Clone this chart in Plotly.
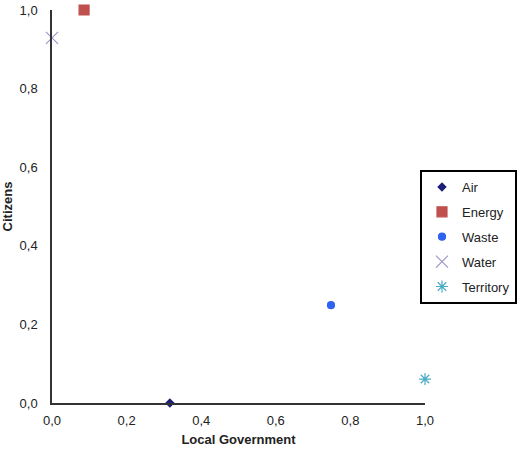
import plotly.graph_objects as go

series = ["Air", "Energy", "Waste", "Water", "Territory"]
x_vals = [0.316, 0.086, 0.748, 0.0, 1.0]
y_vals = [0.0, 1.0, 0.249, 0.929, 0.061]
symbols = ["diamond", "square", "circle", "x-thin-open", "asterisk-open"]
colors = ["#1f1f7a", "#c0504d", "#2f62f0", "#9a96c8", "#4bacc6"]
sizes = [6, 10, 7, 12, 10]

fig = go.Figure()
for i, name in enumerate(series):
    fig.add_trace(go.Scatter(
        x=[x_vals[i]], y=[y_vals[i]], mode="markers", name=name,
        legendgroup=name,
        marker=dict(symbol=symbols[i], color=colors[i], size=sizes[i],
                    line=dict(color=colors[i], width=1.2)),
        cliponaxis=False,
    ))

fig.update_layout(
    width=520, height=450,
    margin=dict(l=52, r=95, t=10, b=47, autoexpand=False),
    paper_bgcolor="white", plot_bgcolor="white",
    separators=", ",
    font=dict(family="Liberation Sans, Arial, sans-serif", size=13, color="#222"),
    xaxis=dict(range=[0, 1], dtick=0.2, tickformat=".1f", showgrid=False,
               zeroline=False, showline=True, linecolor="#333", linewidth=1.5,
               ticks="", ticklabelstandoff=5,
               title=dict(text="<b>Local Government</b>", standoff=8,
                          font=dict(size=13))),
    yaxis=dict(range=[0, 1], dtick=0.2, tickformat=".1f", showgrid=False,
               zeroline=False, showline=True, linecolor="#333", linewidth=1.5,
               ticks="", ticklabelstandoff=10,
               title=dict(text="<b>Citizens</b>", standoff=6,
                          font=dict(size=13))),
    legend=dict(x=(517 - 52) / 373, y=0.593, xanchor="right", yanchor="top",
                bordercolor="black", borderwidth=2, bgcolor="white",
                font=dict(size=13), tracegroupgap=5, itemwidth=30),
    showlegend=True,
)

fig.write_html("out.html")
